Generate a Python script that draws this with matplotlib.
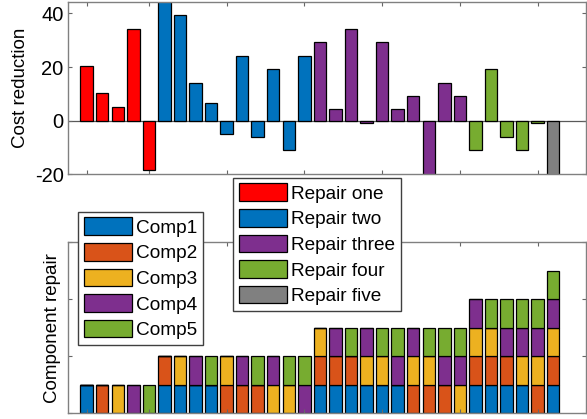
import matplotlib.pyplot as plt
from matplotlib.patches import Patch
import numpy as np

plt.rcParams['font.family'] = ['Liberation Sans', 'DejaVu Sans']
plt.rcParams['axes.unicode_minus'] = False

# cost reduction per repair set
cost = [20.5, 10.2, 5.1, 34.2, -18.5,
        45.0, 39.4, 14.2, 6.6, -4.9, 24.3, -5.9, 19.2, -10.9, 24.3,
        29.2, 4.2, 34.2, -1.0, 29.2, 4.2, 9.2, -21.0, 14.2, 9.2,
        -10.9, 19.2, -5.9, -10.9, -0.9,
        -21.0]

# components repaired in each set
combos = [(1,), (2,), (3,), (4,), (5,),
          (1, 2), (1, 3), (1, 4), (1, 5), (2, 3), (2, 4), (2, 5), (3, 4), (3, 5), (4, 5),
          (1, 2, 3), (1, 2, 4), (1, 2, 5), (1, 3, 4), (1, 3, 5), (1, 4, 5),
          (2, 3, 4), (2, 3, 5), (2, 4, 5), (3, 4, 5),
          (1, 2, 3, 4), (1, 2, 3, 5), (1, 2, 4, 5), (1, 3, 4, 5), (2, 3, 4, 5),
          (1, 2, 3, 4, 5)]

repair_labels = ['Repair one', 'Repair two', 'Repair three', 'Repair four', 'Repair five']
repair_colors = ['#FF0000', '#0072BD', '#7E2F8E', '#77AC30', '#808080']
comp_labels = ['Comp1', 'Comp2', 'Comp3', 'Comp4', 'Comp5']
comp_colors = ['#0072BD', '#D95319', '#EDB120', '#7E2F8E', '#77AC30']

x = np.arange(1, len(cost) + 1)
W, H = 587, 419
fig = plt.figure(figsize=(W / 100, H / 100), dpi=100)

left, right = 67.7 / W, 585.8 / W
ax1 = fig.add_axes([left, (H - 174.3) / H, right - left, (174.3 - 1.7) / H])
ax2 = fig.add_axes([left, (H - 413.3) / H, right - left, (413.3 - 242.3) / H])

# top: cost reduction, coloured by number of repaired components
bar_cols = [repair_colors[len(c) - 1] for c in combos]
ax1.axhline(0, color='0.35', lw=0.9, zorder=1)
ax1.bar(x, cost, width=0.8, color=bar_cols, edgecolor='black', linewidth=0.9, zorder=2)
ax1.set_ylim(-20, 44.4)
ax1.set_yticks([-20, 0, 20, 40])
ax1.set_ylabel('Cost reduction', fontsize=13.5, labelpad=4)

# bottom: stacked component repair matrix
M = np.array([[1 if k in c else 0 for k in range(1, 6)] for c in combos])
bottom = np.zeros(len(combos))
for k in range(5):
    ax2.bar(x, M[:, k], bottom=bottom, width=0.8, color=comp_colors[k],
            edgecolor='black', linewidth=0.9)
    bottom += M[:, k]
ax2.set_ylim(0, 6)
ax2.set_yticks([0, 2, 4, 6])
ax2.set_yticklabels([])
ax2.set_ylabel('Component repair', fontsize=13.5, labelpad=2)

for ax in (ax1, ax2):
    ax.set_xlim(-0.22, 33.1)
    ax.set_xticks([1, 5, 10, 15, 20, 25, 30])
    ax.set_xticklabels([])
    ax.tick_params(direction='in', length=3, width=0.8, color='0.4',
                   top=True, right=True, labelsize=14.5, pad=3)
    for s in ax.spines.values():
        s.set_color('0.5')
        s.set_linewidth(1.0)

leg_kw = dict(loc='upper left', fontsize=13.7, frameon=True, fancybox=False,
              framealpha=1, edgecolor='0.25', handlelength=2.5, handleheight=1.05,
              handletextpad=0.25, labelspacing=0.33, borderpad=0.3, borderaxespad=0)

h1 = [Patch(facecolor=c, edgecolor='black', linewidth=0.9) for c in repair_colors]
l1 = fig.legend(h1, repair_labels, bbox_to_anchor=(233.3 / W, (H - 177.7) / H), **leg_kw)
l1.get_frame().set_linewidth(1.0)

h2 = [Patch(facecolor=c, edgecolor='black', linewidth=0.9) for c in comp_colors]
l2 = fig.legend(h2, comp_labels, bbox_to_anchor=(78.3 / W, (H - 211.7) / H), **leg_kw)
l2.get_frame().set_linewidth(1.0)

fig.savefig('out.png', dpi=100)
